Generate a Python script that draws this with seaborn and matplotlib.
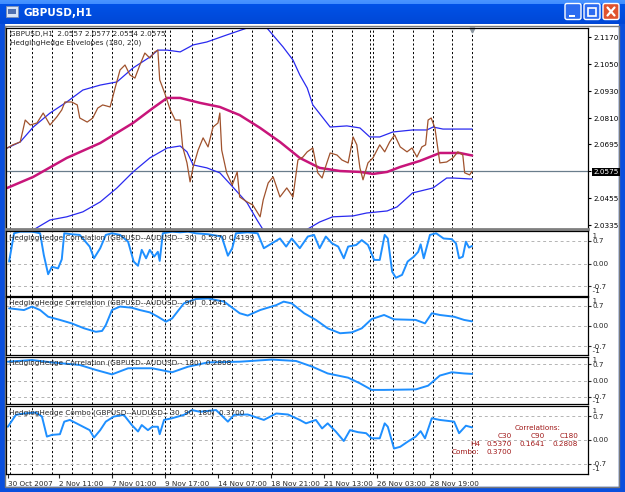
import matplotlib
matplotlib.use("Agg")
import matplotlib.pyplot as plt
import matplotlib.transforms as mtransforms
import numpy as np
import seaborn as sns
from matplotlib.patches import Rectangle, FancyBboxPatch

# ---------------- data (bar index -> value) ----------------
price_bar = [2, 11, 23, 31, 39, 50, 60, 71, 82, 90,
             95, 106, 115, 119, 131, 140, 148, 156, 168, 176,
             184, 192, 200, 208, 216, 224, 232, 240, 245, 248,
             256, 265, 273, 281, 285, 292, 297, 302, 310, 318,
             326, 334, 342, 345, 348, 356, 365, 373, 377, 389,
             398, 410, 415, 423, 431, 442, 453, 463, 471, 479,
             486, 495, 503, 510, 515, 523, 534, 542, 552, 560,
             566, 571, 576, 584, 592, 603, 611, 619, 627, 636,
             647, 655, 663, 671, 677, 681, 686, 692, 700, 711,
             721, 729, 737, 740, 748, 752]
price_val = [2.0678, 2.0692, 2.0705, 2.0802, 2.0780, 2.0789, 2.0833, 2.0780, 2.0816, 2.0847,
             2.0882, 2.0882, 2.0869, 2.0811, 2.0793, 2.0811, 2.0855, 2.0869, 2.0860, 2.0944,
             2.1024, 2.1046, 2.1002, 2.0988, 2.1046, 2.1099, 2.1077, 2.1104, 2.1112, 2.0980,
             2.0922, 2.0847, 2.0802, 2.0802, 2.0683, 2.0612, 2.0528, 2.0594, 2.0669, 2.0723,
             2.0683, 2.0771, 2.0789, 2.0833, 2.0669, 2.0568, 2.0514, 2.0572, 2.0461, 2.0439,
             2.0426, 2.0373, 2.0448, 2.0523, 2.0550, 2.0461, 2.0501, 2.0461, 2.0625, 2.0638,
             2.0661, 2.0678, 2.0568, 2.0545, 2.0590, 2.0656, 2.0647, 2.0625, 2.0612, 2.0727,
             2.0692, 2.0590, 2.0537, 2.0612, 2.0634, 2.0692, 2.0661, 2.0705, 2.0736, 2.0683,
             2.0661, 2.0678, 2.0638, 2.0683, 2.0692, 2.0802, 2.0811, 2.0767, 2.0612, 2.0616,
             2.0634, 2.0661, 2.0647, 2.0568, 2.0559, 2.0575]

ma_bar = [2, 44, 98, 152, 205, 237, 260, 281, 313, 345, 377, 410, 442, 474,
          506, 539, 571, 592, 615, 636, 668, 700, 732, 748, 752]
ma_val = [2.0501, 2.0550, 2.0634, 2.0700, 2.0789, 2.0855, 2.0900, 2.0900, 2.0878,
          2.0860, 2.0824, 2.0767, 2.0705, 2.0634, 2.0590, 2.0576, 2.0572, 2.0563,
          2.0572, 2.0594, 2.0621, 2.0656, 2.0656, 2.0647, 2.0645]

up_bar = [2, 23, 44, 71, 98, 124, 152, 179, 205, 232, 245, 260, 281, 302, 324, 356,
          389, 405, 421, 447, 463, 474, 486, 495, 523, 550, 571, 587, 603, 624, 656,
          679, 689, 705, 748, 752]
up_val = [2.0678, 2.0705, 2.0771, 2.0833, 2.0882, 2.0935, 2.0957, 2.0971, 2.1033,
          2.1081, 2.1112, 2.1112, 2.1104, 2.1135, 2.1148, 2.1179, 2.1210, 2.1235,
          2.1210, 2.1126, 2.1068, 2.1002, 2.0944, 2.0869, 2.0771, 2.0776, 2.0767,
          2.0727, 2.0727, 2.0749, 2.0758, 2.0758, 2.0771, 2.0762, 2.0762, 2.0762]

lo_bar = [2, 44, 71, 98, 124, 152, 179, 205, 232, 260, 281, 292, 302, 324, 345, 366,
          389, 405, 415, 448, 490, 506, 527, 560, 582, 615, 631, 656, 689, 711, 721,
          748, 752]
lo_val = [2.0275, 2.0315, 2.0359, 2.0373, 2.0395, 2.0439, 2.0501, 2.0572, 2.0634,
          2.0678, 2.0687, 2.0661, 2.0603, 2.0590, 2.0568, 2.0505, 2.0435, 2.0359,
          2.0315, 2.0260, 2.0324, 2.0350, 2.0373, 2.0377, 2.0390, 2.0399, 2.0417,
          2.0479, 2.0501, 2.0545, 2.0545, 2.0541, 2.0541]

c30_bar = [5, 13, 23, 42, 55, 61, 68, 74, 84, 90, 94, 106, 119, 135, 142, 152, 161,
           171, 184, 197, 206, 213, 219, 226, 232, 239, 245, 248, 253, 268, 281, 294,
           306, 326, 348, 358, 365, 371, 390, 406, 416, 429, 442, 452, 461, 474, 487,
           497, 506, 516, 526, 536, 545, 552, 565, 574, 584, 594, 603, 611, 616, 623,
           629, 639, 648, 658, 665, 669, 674, 684, 694, 706, 719, 726, 731, 737, 742,
           747, 752]
c30_val = [0.06, 0.93, 0.98, 0.98, 0.93, 0.26, -0.33, -0.10, -0.15, 0.13,
           0.93, 0.90, 0.88, 0.52, 0.16, 0.47, 0.88, 0.93, 0.88, 0.67,
           0.06, -0.07, 0.42, 0.16, 0.42, 0.21, 0.36, 0.08, 0.93, 0.98,
           0.96, 0.98, 0.93, 0.90, 0.83, 0.24, 0.47, 0.93, 0.96, 0.93,
           0.47, 0.62, 0.77, 0.52, 0.77, 0.47, 0.83, 0.88, 0.47, 0.83,
           0.62, 0.52, 0.16, 0.52, 0.57, 0.72, 0.57, 0.11, 0.11, 0.88,
           0.77, -0.25, -0.44, -0.35, 0.06, 0.21, 0.36, 0.59, 0.16, 0.88,
           0.93, 0.77, 0.75, 0.62, 0.16, 0.21, 0.67, 0.49, 0.54]

c90_bar = [5, 29, 42, 55, 68, 87, 106, 126, 145, 155, 161, 171, 184, 203, 216, 232,
           245, 258, 268, 287, 306, 326, 352, 377, 390, 410, 436, 448, 461, 481, 500,
           519, 539, 558, 574, 590, 610, 626, 661, 676, 687, 700, 723, 739, 752]
c90_val = [0.61, 0.55, 0.67, 0.55, 0.32, 0.21, 0.09, -0.08, -0.20, -0.17,
           0.03, 0.55, 0.67, 0.63, 0.55, 0.47, 0.32, 0.15, 0.26, 0.78,
           0.93, 0.95, 0.84, 0.44, 0.36, 0.55, 0.72, 0.84, 0.78, 0.44,
           0.21, -0.08, -0.25, -0.22, -0.08, 0.24, 0.38, 0.23, 0.21, 0.09,
           0.44, 0.38, 0.32, 0.21, 0.16]

c180_bar = [3, 42, 74, 119, 145, 171, 197, 236, 268, 294, 326, 377, 429, 468, 494,
            519, 552, 571, 590, 610, 661, 681, 700, 719, 739, 752]
c180_val = [0.80, 0.87, 0.77, 0.66, 0.45, 0.26, 0.52, 0.52, 0.35, 0.59, 0.77, 0.80,
            0.89, 0.83, 0.59, 0.30, 0.12, -0.12, -0.40, -0.40, -0.38, -0.22, 0.21,
            0.35, 0.30, 0.28]

combo_bar = [3, 16, 29, 48, 58, 66, 74, 87, 94, 103, 119, 135, 142, 152, 161, 174,
             190, 203, 213, 219, 229, 236, 245, 248, 255, 268, 287, 300, 313, 339,
             358, 368, 390, 416, 436, 455, 474, 484, 500, 510, 519, 532, 545, 555,
             568, 581, 590, 603, 611, 616, 626, 636, 648, 661, 669, 676, 687, 700,
             723, 731, 742, 752]
combo_val = [0.39, 0.74, 0.78, 0.81, 0.69, 0.10, 0.15, 0.17, 0.54, 0.59,
             0.44, 0.29, 0.07, 0.29, 0.54, 0.69, 0.74, 0.44, 0.25, 0.44,
             0.29, 0.39, 0.39, 0.17, 0.59, 0.64, 0.74, 0.88, 0.83, 0.88,
             0.54, 0.74, 0.75, 0.59, 0.78, 0.75, 0.59, 0.49, 0.59, 0.34,
             0.49, 0.25, -0.03, 0.29, 0.23, 0.20, 0.05, 0.05, 0.49, 0.39,
             -0.25, -0.20, -0.05, 0.10, 0.26, 0.05, 0.64, 0.59, 0.54, 0.20,
             0.42, 0.37]

grid_bars = [6, 42, 74, 106, 139, 171, 203, 236, 256, 265, 300, 332, 365, 397, 429,
             461, 494, 526, 558, 587, 592, 624, 656, 689, 719, 752]
time_bars = [3, 85, 171, 256, 342, 427, 513, 598, 684]
time_labels = ["30 Oct 2007", "2 Nov 11:00", "7 Nov 01:00", "9 Nov 17:00",
               "14 Nov 07:00", "18 Nov 21:00", "21 Nov 13:00", "26 Nov 03:00",
               "28 Nov 19:00"]
price_ticks = [2.1170, 2.1050, 2.0930, 2.0810, 2.0695, 2.0575, 2.0455, 2.0335]
ohlc = [2.0557, 2.0577, 2.0554, 2.0575]
last_price = 2.0575
corr_names = ["C30", "C90", "C180"]
corr_h4 = [0.5370, 0.1641, 0.2808]
combo_last = 0.3700
c30_second = 0.4199

# ---------------- figure ----------------
W, H = 625, 492
sns.set_style("white")
plt.rcParams["font.family"] = ["DejaVu Sans"]
FS = 5.2

fig = plt.figure(figsize=(W / 100, H / 100), dpi=100)


def px_axes(x0, y0, x1, y1, z=1):
    return fig.add_axes([x0 / W, 1 - y1 / H, (x1 - x0) / W, (y1 - y0) / H], zorder=z)


bg = px_axes(0, 0, W, H, z=0)
bg.set_xlim(0, W)
bg.set_ylim(H, 0)
bg.axis("off")

# window chrome
grad = np.linspace(0, 1, 24)
cols = np.array([[0.28, 0.60, 1.0]] * 24)
for i, g in enumerate(grad):
    if g < 0.15:
        cols[i] = [0.25 + 0.2 * (0.15 - g), 0.55 + 0.2 * (0.15 - g), 1.0]
    else:
        cols[i] = [0.0, 0.33 - 0.05 * g, 0.92 - 0.08 * g]
bg.imshow(cols[:, None, :], extent=(0, W, 24, 0), aspect="auto", zorder=1)
for x0, x1, y0, y1 in [(0, 4, 24, H), (619, W, 24, H), (0, W, 487, H)]:
    bg.add_patch(Rectangle((x0, y0), x1 - x0, y1 - y0, color="#0A4FDD", zorder=2))
bg.add_patch(Rectangle((4.5, 25.5), 614, 461, fill=False, ec="#7A7A7A", lw=1, zorder=2))
bg.set_xlim(0, W)
bg.set_ylim(H, 0)

# title icon + text
bg.add_patch(Rectangle((6, 6), 12, 11, fc="#D8E4F8", ec="#8090B0", lw=0.6, zorder=3))
bg.add_patch(Rectangle((8, 9), 8, 5, fc="#5070B0", ec="none", zorder=4))
bg.text(24, 12.5, "GBPUSD,H1", color="white", fontsize=7.6, fontweight="bold",
        va="center", ha="left", zorder=5)

# title buttons
for bx, face in [(565, "#2C6CF0"), (584, "#2C6CF0"), (603, "#E0522E")]:
    bg.add_patch(FancyBboxPatch((bx, 3.5), 16, 16, boxstyle="round,pad=0,rounding_size=2",
                                fc=face, ec="white", lw=1, zorder=5))
bg.add_patch(Rectangle((569, 14.5), 6, 2, fc="white", ec="none", zorder=6))
bg.add_patch(Rectangle((588, 7.5), 8, 8, fill=False, ec="white", lw=1.2, zorder=6))
bg.plot([607.5, 614.5], [7.5, 15.5], color="white", lw=1.6, zorder=6)
bg.plot([607.5, 614.5], [15.5, 7.5], color="white", lw=1.6, zorder=6)

# ---------------- panels ----------------
XL, XR = 6, 588
X_MAX = 939
panels = {
    "main": (28, 229),
    "c30": (231, 296),
    "c90": (297, 355),
    "c180": (357, 404),
    "combo": (406, 474),
}
axes = {k: px_axes(XL, y0, XR, y1) for k, (y0, y1) in panels.items()}

for name, ax in axes.items():
    ax.set_facecolor("white")
    ax.set_xlim(0, X_MAX)
    for s in ax.spines.values():
        s.set_color("black")
        s.set_linewidth(0.9)
    for gb in grid_bars:
        ax.axvline(gb, color="black", lw=0.7, ls=(0, (2.2, 2.2)), zorder=0)
    ax.set_xticks([])

# main price panel
ax = axes["main"]
ax.set_ylim(2.0319, 2.1210)
ax.spines["bottom"].set_color("#808080")
ax.spines["bottom"].set_linewidth(2)
ax.axhline(last_price, color="#6A7D8C", lw=0.9, zorder=1)
sns.lineplot(x=up_bar, y=up_val, ax=ax, color="#2A2AF0", lw=0.9, estimator=None, sort=False)
sns.lineplot(x=lo_bar, y=lo_val, ax=ax, color="#2A2AF0", lw=0.9, estimator=None, sort=False)
sns.lineplot(x=ma_bar, y=ma_val, ax=ax, color="#C8157A", lw=1.8, estimator=None, sort=False)
sns.lineplot(x=price_bar, y=price_val, ax=ax, color="#A0522D", lw=0.9, estimator=None, sort=False)
ax.plot([price_bar[-1]], [2.1203], marker="v", ms=3.5, color="#8A96A0", clip_on=False)
ax.yaxis.tick_right()
ax.set_yticks(price_ticks)
ax.set_yticklabels([f"{v:.4f}" for v in price_ticks])
ax.tick_params(axis="y", length=2.5, width=0.8, pad=1.5, labelsize=FS, direction="out",
               right=True, left=False, colors="black")
for lbl, v in zip(ax.get_yticklabels(), price_ticks):
    if abs(v - last_price) < 1e-9:
        lbl.set_color("white")
        lbl.set_bbox(dict(facecolor="black", edgecolor="none", pad=0.8))
ax.set_xlabel("")
ax.set_ylabel("")
ax.annotate("GBPUSD,H1  " + " ".join(f"{v:.4f}" for v in ohlc), xy=(0, 1),
            xycoords="axes fraction", xytext=(4, -3), textcoords="offset pixels",
            va="top", ha="left", fontsize=FS)
ax.annotate("HedgingHedge Envelopes (180, 2.0)", xy=(0, 1), xycoords="axes fraction",
            xytext=(4, -11.5), textcoords="offset pixels", va="top", ha="left", fontsize=FS)

# correlation panels
labels = {
    "c30": f"HedgingHedge Correlation (GBPUSD--AUDUSD-- 30)  {corr_h4[0]:.4f} {c30_second:.4f}",
    "c90": f"HedgingHedge Correlation (GBPUSD--AUDUSD-- 90)  {corr_h4[1]:.4f}",
    "c180": f"HedgingHedge Correlation (GBPUSD--AUDUSD-- 180)  {corr_h4[2]:.4f}",
    "combo": f"HedgingHedge Combo (GBPUSD--AUDUSD-- 30, 90, 180)  {combo_last:.4f}",
}
series = {
    "c30": (c30_bar, c30_val),
    "c90": (c90_bar, c90_val),
    "c180": (c180_bar, c180_val),
    "combo": (combo_bar, combo_val),
}
for name in ["c30", "c90", "c180", "combo"]:
    ax = axes[name]
    ax.set_ylim(-1, 1)
    for lv in [0.7, 0.0, -0.7]:
        ax.axhline(lv, color="#B4B4B4", lw=0.7, ls=(0, (3, 3)), zorder=0)
    bx, bv = series[name]
    sns.lineplot(x=bx, y=bv, ax=ax, color="#1E8FFF", lw=1.4, estimator=None, sort=False)
    ax.yaxis.tick_right()
    ax.set_yticks([0.7, 0.0, -0.7])
    ax.set_yticklabels(["0.7", "0.00", "-0.7"])
    ax.tick_params(axis="y", length=2, width=0.8, pad=1.5, labelsize=FS, direction="out",
                   right=True, left=False)
    tr = mtransforms.blended_transform_factory(ax.transAxes, ax.transData)
    ax.text(1.0, 0.86, "  1", transform=tr, fontsize=FS, va="center", ha="left")
    ax.text(1.0, -0.86, "  -1", transform=tr, fontsize=FS, va="center", ha="left")
    ax.set_xlabel("")
    ax.set_ylabel("")
    ax.annotate(labels[name], xy=(0, 1), xycoords="axes fraction", xytext=(3, -3),
                textcoords="offset pixels", va="top", ha="left", fontsize=FS)

ax = axes["combo"]
ax.set_xticks(time_bars)
ax.set_xticklabels(time_labels, ha="left")
ax.tick_params(axis="x", length=3, width=0.8, pad=2, labelsize=FS, bottom=True,
               direction="out")

# correlations table (pixel overlay)
fg = px_axes(0, 0, W, H, z=5)
fg.set_xlim(0, W)
fg.set_ylim(H, 0)
fg.axis("off")
red = "#A01818"
fg.text(538, 428, "Correlations:", color=red, fontsize=FS, ha="center", va="center")
col_r = [512, 545, 578]
for xr, nm, v in zip(col_r, corr_names, corr_h4):
    fg.text(xr, 436, nm, color=red, fontsize=FS, ha="right", va="center")
    fg.text(xr, 444, f"{v:.4f}", color=red, fontsize=FS, ha="right", va="center")
fg.text(480, 444, "H4", color=red, fontsize=FS, ha="right", va="center")
fg.text(480, 452.5, "Combo:", color=red, fontsize=FS, ha="right", va="center")
fg.text(512, 452.5, f"{combo_last:.4f}", color=red, fontsize=FS, ha="right", va="center")

fig.savefig("out.png", dpi=100)
